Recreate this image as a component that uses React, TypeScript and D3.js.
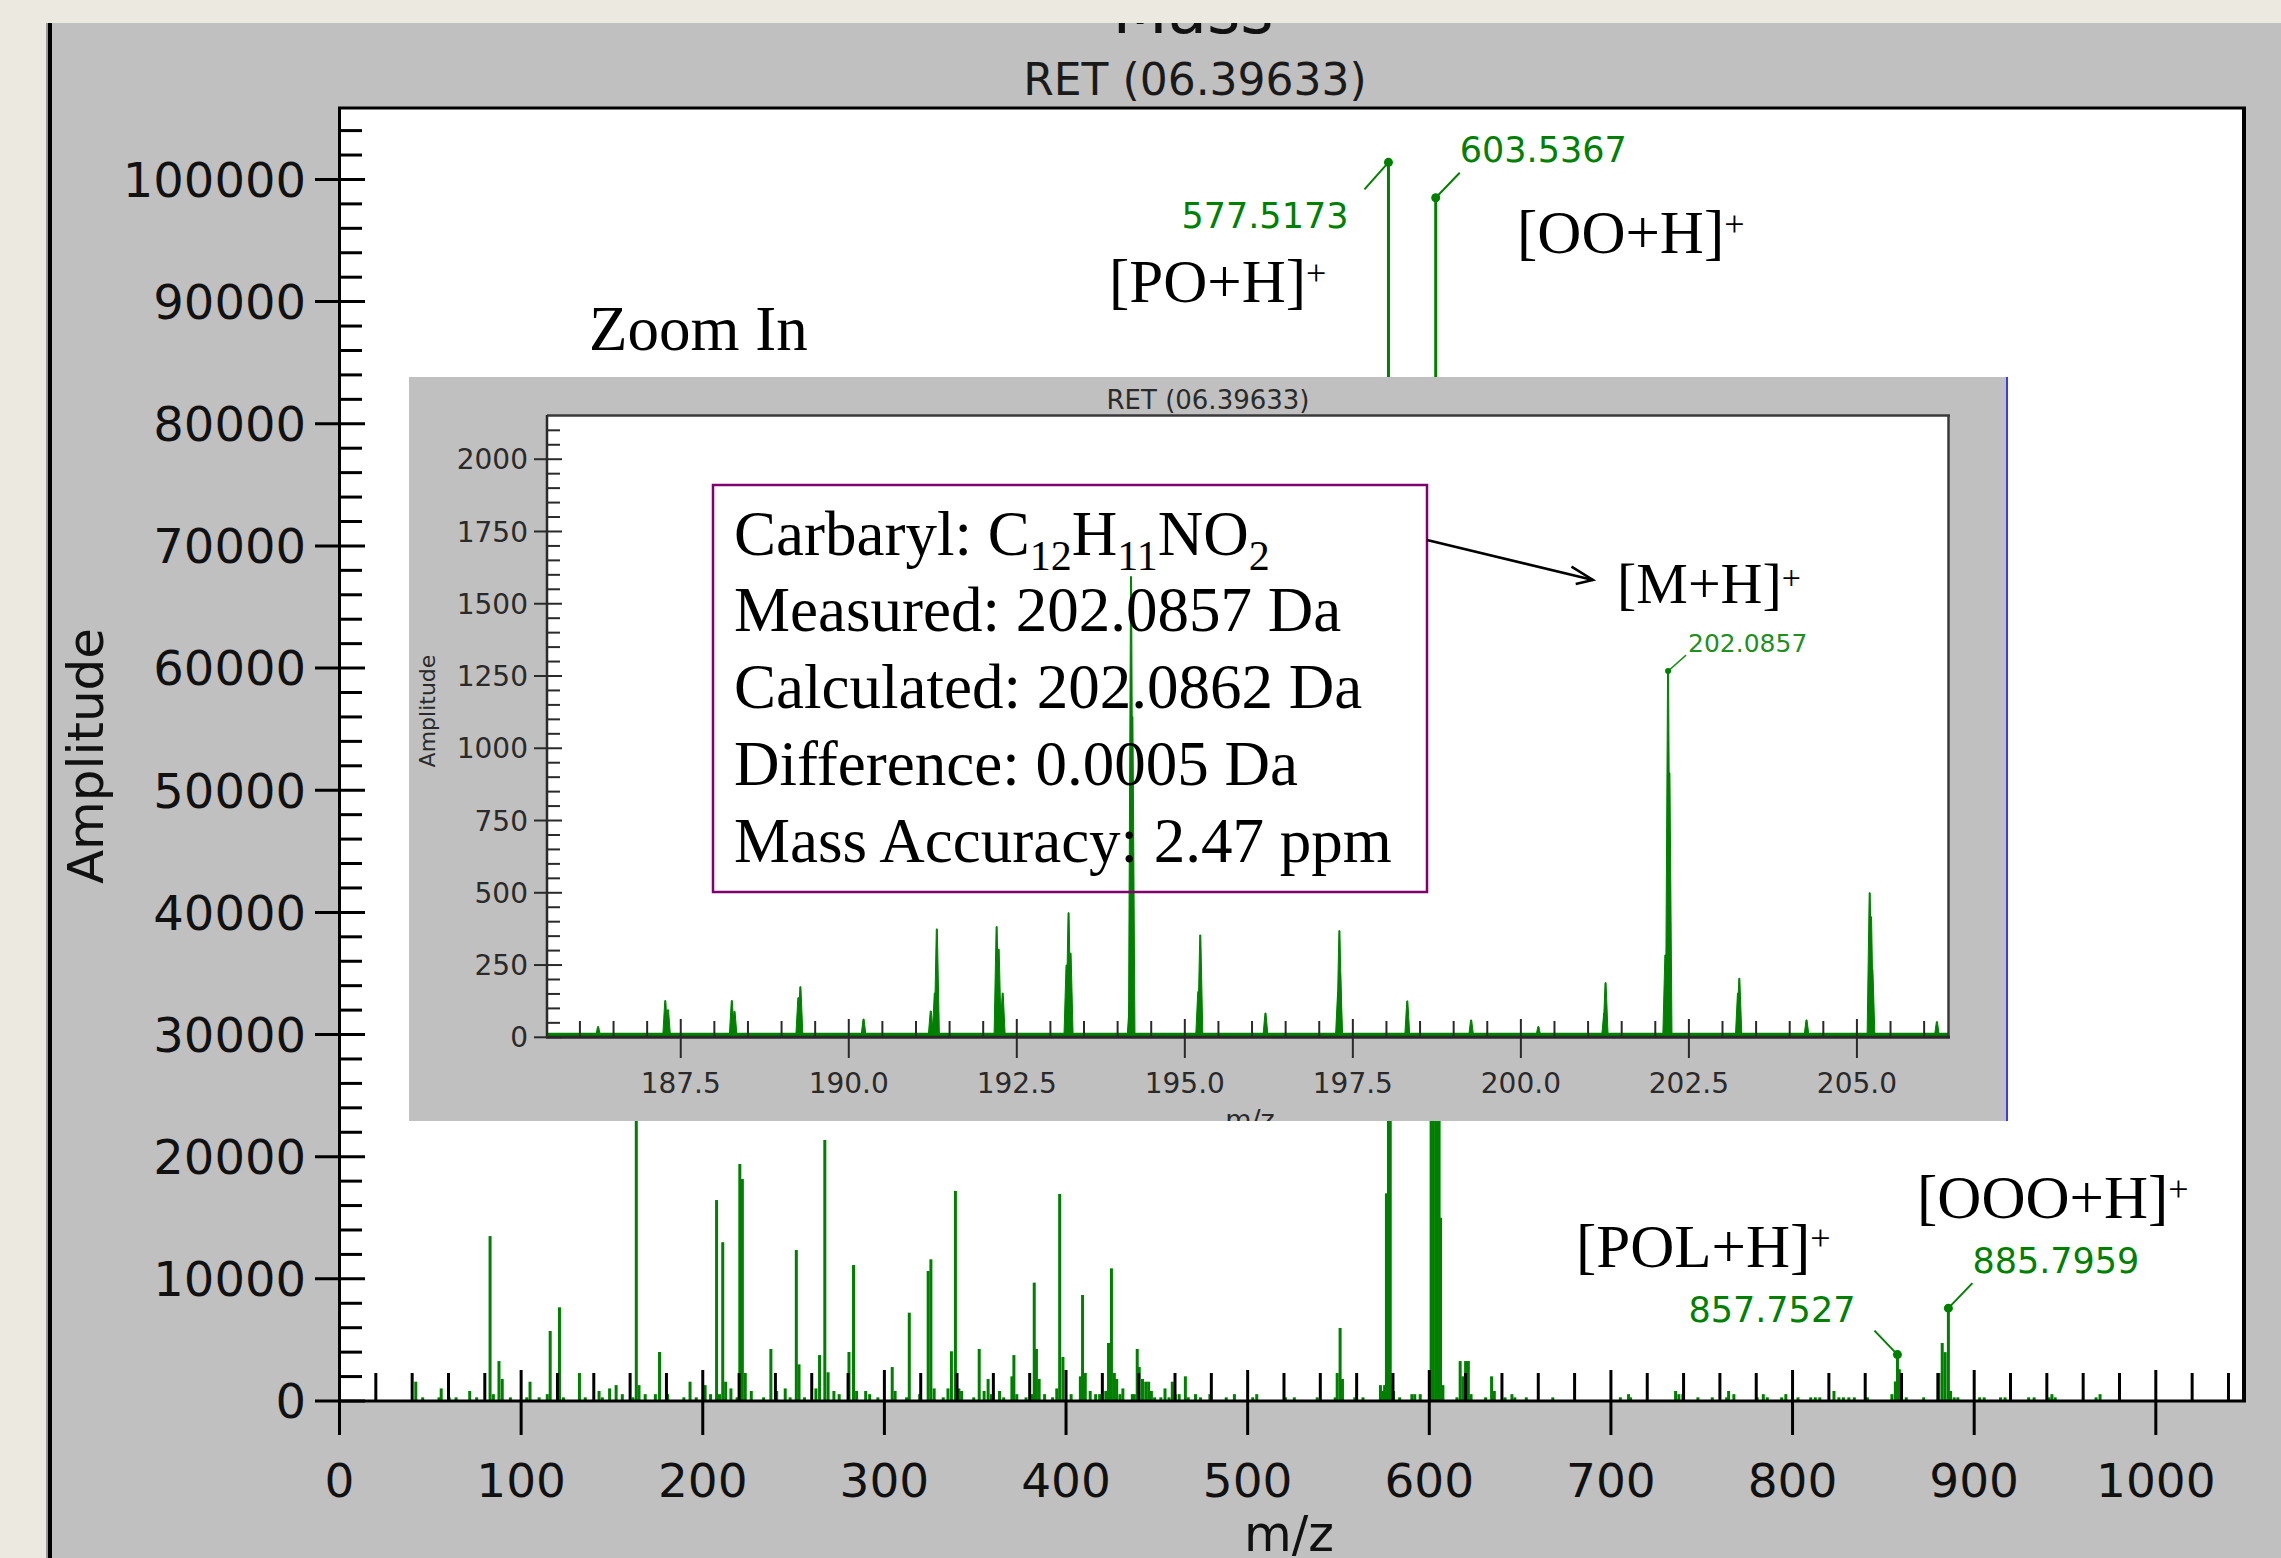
import * as d3 from "d3";

const W = 2281;
const H = 1558;

// ---- main spectrum: [m/z, amplitude] sticks ----
const mainPeaks: [number, number][] = [
  [42, 1580], [45.8, 300], [54.8, 300], [56, 1030], [60.4, 300], [64.2, 300], [71.7, 820], [75.5, 300],
  [82.9, 13500], [84.7, 560], [87.8, 3270], [89.6, 1800], [94.1, 300], [103.1, 300], [104.9, 1580],
  [109.9, 300], [114.4, 560], [116, 5730], [121.1, 7670], [123.3, 300], [132.1, 2290], [135.3, 300],
  [142.9, 820], [144.7, 300], [148.7, 1030], [152.3, 1300], [155.7, 560], [161.6, 300], [163.4, 25000],
  [164.9, 1300], [168.3, 560], [173.9, 560], [176.2, 4010], [180.7, 560], [189.6, 300], [193, 1580],
  [196.4, 300], [201.3, 1300], [204.3, 560], [207.6, 16450], [209.2, 560], [211, 13000], [212.6, 1580],
  [215.5, 1030], [218.9, 300], [220.4, 19400], [221.8, 18170], [223.4, 2290], [226.7, 820], [233.5, 300],
  [237.5, 4260], [240.7, 820], [245.4, 1030], [248.1, 300], [251.5, 12360], [253, 3000], [256, 300],
  [262.3, 1030], [264.3, 3760], [267.2, 21370], [269, 2350], [272.2, 820], [275.1, 560], [280.5, 4010],
  [283, 11130], [284.7, 820], [289.7, 820], [291.9, 560], [296.4, 300], [304.3, 2780], [305.9, 820],
  [312.2, 300], [313.7, 7230], [319.4, 560], [324.1, 10640], [325.6, 11600], [327.4, 1030], [332.4, 300],
  [335, 1030], [336.9, 4070], [339.1, 17200], [341, 1030], [342.5, 820], [349.2, 300], [352.2, 4260],
  [354.9, 820], [357.1, 1800], [358.9, 560], [363.4, 820], [365.7, 300], [370.2, 2020], [371.3, 3760],
  [372.9, 560], [378, 300], [381, 560], [382.5, 9690], [383.7, 4260], [385.2, 1800], [388.2, 560],
  [392.6, 300], [394.9, 1030], [396.5, 16950], [398.3, 3600], [402.8, 560], [407.9, 2020], [409.1, 8680],
  [410.6, 2290], [413.3, 820], [416.3, 560], [418.5, 560], [421.9, 820], [423.4, 4750], [425, 10860],
  [426.6, 2290], [427.9, 1800], [429.7, 560], [431.3, 1030], [436.5, 560], [437.6, 560], [439.2, 4260],
  [440.3, 2780], [442.1, 1800], [443.9, 1580], [445.5, 1580], [447, 820], [448.8, 300], [452.2, 300],
  [454.5, 1030], [456.7, 300], [458.5, 1580], [460.1, 560], [462.3, 560], [465.7, 2020], [467.3, 300],
  [471.3, 560], [474, 300], [479.2, 560], [488.2, 300], [492.7, 560], [502.8, 300], [505, 560],
  [520.8, 300], [525.7, 300], [538.3, 300], [548.2, 300], [549.3, 2290], [550.9, 5980], [552.2, 1800],
  [559, 300], [563.5, 300], [573.1, 1300], [574.3, 820], [575.4, 1300], [576.4, 17000], [577.5173, 101400],
  [578.5, 38000], [579.5, 1300], [580.3, 820], [583.7, 300], [590.4, 560], [592, 560], [595, 560],
  [601, 30000], [602.2, 35000], [603.5367, 98500], [604.6, 40000], [605.4, 26000], [606.2, 15000],
  [607.5, 1300], [615.2, 300], [617, 3270], [618.5, 2020], [620, 3270], [621.5, 3270], [623, 560],
  [631, 300], [634.3, 2020], [635.8, 820], [641.7, 300], [645.5, 560], [647.1, 300], [653.4, 300],
  [668, 300], [705.2, 300], [709.7, 560], [710.8, 300], [735.6, 820], [737.4, 560], [739.6, 560],
  [747.9, 300], [755.8, 300], [763.7, 300], [764.8, 820], [767.7, 560], [780.5, 300], [783.9, 560],
  [786.1, 300], [794, 300], [796.3, 560], [803, 300], [810, 300], [812.5, 300], [815, 300], [822.8, 820],
  [825.5, 300], [828, 300], [831, 300], [834, 300], [841.2, 300], [854.7, 560], [856.6, 1600],
  [857.7527, 3800], [858.8, 2600], [859.8, 1600], [862.6, 300], [872.2, 300], [880.6, 2290], [882.4, 4750],
  [884, 4000], [885.7959, 7600], [887, 820], [889, 300], [891, 300], [903, 300], [905.5, 300],
  [914.5, 300], [917, 300], [930, 300], [933, 300], [941.2, 300], [942.8, 560], [944.6, 300],
  [967.1, 300], [969.3, 560],
];

// labelled peaks in the main spectrum
const mainLabelMz = [577.5173, 603.5367, 857.7527, 885.7959];
const mainLabelAmp = [101400, 98500, 3800, 7600];
const mainLabelText = ["577.5173", "603.5367", "857.7527", "885.7959"];

// ion annotations (slide text)
const ionLabels = ["PO+H", "OO+H", "POL+H", "OOO+H"];

// ---- zoomed spectrum (inset): [m/z, amplitude] ----
const insetPeaks: [number, number][] = [
  [186.27, 37], [187.27, 127], [187.31, 95], [188.26, 127], [188.3, 90], [189.25, 137], [189.28, 175],
  [190.22, 63], [191.22, 91], [191.28, 153], [191.31, 375], [192.2, 383], [192.23, 305], [192.26, 95],
  [192.29, 153], [193.24, 250], [193.27, 431], [193.3, 291], [194.18, 112], [194.2, 1594], [194.22, 1109],
  [195.2, 158], [195.23, 354], [196.2, 84], [197.28, 153], [197.3, 369], [197.31, 222], [198.31, 126],
  [199.26, 60], [200.26, 37], [201.24, 84], [201.26, 189], [202.15, 285], [202.19, 1267], [202.21, 915],
  [203.23, 153], [203.25, 204], [204.25, 60], [205.19, 500], [205.21, 417], [205.23, 233], [206.19, 54],
];
const insetLabelMz = 202.19;
const insetLabelAmp = 1267;
const insetLabelText = "202.0857";

const noteLines = [
  "Measured: 202.0857 Da",
  "Calculated: 202.0862 Da",
  "Difference: 0.0005 Da",
  "Mass Accuracy: 2.47 ppm",
];

const GREEN = "#008000";
const SANS = "'DejaVu Sans', Verdana, sans-serif";
const SERIF = "'Liberation Serif', 'Times New Roman', serif";

export default function App() {
  // main scales
  const x = d3.scaleLinear().domain([0, 1048]).range([339.5, 2243]);
  const y = d3.scaleLinear().domain([0, 105850]).range([1401, 108]);
  const y0 = y(0);

  const xMajor = d3.range(0, 1001, 100);
  const xMinor = d3.range(20, 1041, 20).filter((v) => v % 100 !== 0);
  const yMajor = d3.range(0, 100001, 10000);
  const yMinor = d3.range(2000, 104001, 2000).filter((v) => v % 10000 !== 0);

  // inset scales
  const xi = d3.scaleLinear().domain([185.51, 206.37]).range([547, 1949]);
  const yi = d3.scaleLinear().domain([0, 2153]).range([1037.3, 415]);
  const yi0 = yi(0);
  const xiMajor = d3.range(75, 83).map((k) => k * 2.5);
  const xiMinor = d3.range(372, 413).map((k) => k / 2).filter((v) => Math.abs(v / 2.5 - Math.round(v / 2.5)) > 1e-6);
  const yiMajor = d3.range(0, 2001, 250);
  const yiMinor = d3.range(50, 2101, 50).filter((v) => v % 250 !== 0);
  const fmt1 = d3.format(".1f");

  // placement of the peak labels: [labelDx, labelDy, anchor, leaderDx, leaderDy]
  const labelPlace: [number, number, string, number, number][] = [
    [-40, 66, "end", -24, 27],
    [24, -36, "start", 24, -25],
    [-42, -33, "end", -23, -24],
    [24, -35, "start", 24, -25],
  ];
  const ionPos: [number, number][] = [
    [1109, 302],
    [1517, 253],
    [1576, 1267],
    [1917, 1218],
  ];

  const ipx = xi(insetLabelMz);
  const ipy = yi(insetLabelAmp);

  return (
    <svg
      width={W}
      height={H}
      style={{ position: "absolute", left: 0, top: 0, display: "block" }}
      fontFamily={SANS}
    >
      <defs>
        <clipPath id="plotClip">
          <rect x={341} y={109} width={1902} height={1291} />
        </clipPath>
        <clipPath id="insetClip">
          <rect x={409} y={377} width={1599} height={744} />
        </clipPath>
        <clipPath id="insetPlotClip">
          <rect x={548} y={416} width={1400} height={621} />
        </clipPath>
      </defs>

      {/* window background */}
      <rect width={W} height={H} fill="#ECE9E1" />
      <rect x={52} y={23} width={W - 52} height={H - 23} fill="#C0C0C0" />
      <text x={1193} y={33} fontSize={64} textAnchor="middle" fill="#111">Mass</text>
      <rect x={0} y={0} width={W} height={23} fill="#ECE9E1" />
      <rect x={46} y={23} width={2} height={H - 23} fill="#9a9890" />
      <rect x={48} y={23} width={4} height={H - 23} fill="#000" />

      <text x={1195} y={95} fontSize={44} textAnchor="middle" fill="#1a1a1a">RET (06.39633)</text>

      {/* main plot area */}
      <rect x={339.5} y={108} width={1904} height={1293} fill="#fff" />

      <g clipPath="url(#plotClip)">
        {mainPeaks.map(([mz, a], i) => (
          <rect key={i} x={x(mz) - 1.5} y={y(a)} width={3} height={y0 - y(a)} fill={GREEN} />
        ))}
      </g>

      {/* frame */}
      <line x1={338} x2={2246} y1={108} y2={108} stroke="#000" strokeWidth={3} />
      <line x1={2244} x2={2244} y1={107} y2={1402} stroke="#000" strokeWidth={4} />
      <line x1={339.5} x2={339.5} y1={107} y2={1402} stroke="#000" strokeWidth={3} />
      <line x1={338} x2={2246} y1={1401} y2={1401} stroke="#000" strokeWidth={3} />

      {/* y axis ticks */}
      {yMinor.map((v) => (
        <line key={"ym" + v} x1={339.5} x2={362} y1={y(v)} y2={y(v)} stroke="#000" strokeWidth={3} />
      ))}
      {yMajor.map((v) => (
        <g key={"yM" + v}>
          <line x1={315} x2={365} y1={y(v)} y2={y(v)} stroke="#000" strokeWidth={3} />
          <text x={306} y={y(v)} dy="0.36em" fontSize={48} textAnchor="end" fill="#111">{v}</text>
        </g>
      ))}

      {/* x axis ticks */}
      {xMinor.map((v) => (
        <line key={"xm" + v} x1={x(v)} x2={x(v)} y1={1373} y2={1401} stroke="#000" strokeWidth={3} />
      ))}
      {xMajor.map((v) => (
        <g key={"xM" + v}>
          <line x1={x(v)} x2={x(v)} y1={1370} y2={1435} stroke="#000" strokeWidth={3} />
          <text x={x(v)} y={1497} fontSize={47} textAnchor="middle" fill="#111">{v}</text>
        </g>
      ))}

      <text x={1289} y={1551} fontSize={49} textAnchor="middle" fill="#111">m/z</text>
      <text
        transform="translate(103,756) rotate(-90)"
        fontSize={50}
        textAnchor="middle"
        fill="#111"
      >
        Amplitude
      </text>

      {/* labelled peaks */}
      {mainLabelMz.map((mz, i) => {
        const px = x(mz);
        const py = y(mainLabelAmp[i]);
        const [dx, dy, anchor, lx, ly] = labelPlace[i];
        return (
          <g key={"lab" + i}>
            <line x1={px + lx} y1={py + ly} x2={px} y2={py} stroke={GREEN} strokeWidth={2} />
            <circle cx={px} cy={py} r={4.5} fill={GREEN} />
            <text x={px + dx} y={py + dy} fontSize={35} textAnchor={anchor} fill={GREEN}>
              {mainLabelText[i]}
            </text>
          </g>
        );
      })}

      {/* ion annotations */}
      {ionLabels.map((t, i) => (
        <text key={"ion" + i} x={ionPos[i][0]} y={ionPos[i][1]} fontFamily={SERIF} fontSize={61} fill="#000">
          [{t}]
          <tspan fontSize={36} dy={-17}>+</tspan>
        </text>
      ))}
      <text x={589} y={350} fontFamily={SERIF} fontSize={63} fill="#000">Zoom In</text>

      {/* ---- inset ---- */}
      <g clipPath="url(#insetClip)">
        <rect x={409} y={377} width={1599} height={744} fill="#C0C0C0" />
        <text x={1208} y={409} fontSize={26} textAnchor="middle" fill="#2a2a2a">RET (06.39633)</text>
        <rect x={547} y={415} width={1402} height={622} fill="#fff" />

        <g clipPath="url(#insetPlotClip)">
          <line x1={548} x2={1948} y1={yi(9)} y2={yi(9)} stroke={GREEN} strokeWidth={4} />
          {insetPeaks.map(([mz, a], i) => {
            const px = xi(mz);
            const py = yi(a);
            return (
              <path
                key={i}
                d={`M${px - 2.6},${yi0} L${px - 0.5},${py} L${px + 0.5},${py} L${px + 2.6},${yi0} Z`}
                fill={GREEN}
                stroke={GREEN}
                strokeWidth={1}
              />
            );
          })}
        </g>

        {/* inset frame */}
        <line x1={547} x2={1950} y1={415.5} y2={415.5} stroke="#3a3a3a" strokeWidth={2.5} />
        <line x1={1948.5} x2={1948.5} y1={415} y2={1038} stroke="#3a3a3a" strokeWidth={2.5} />
        <line x1={547} x2={547} y1={415} y2={1038} stroke="#2a2a2a" strokeWidth={2.5} />
        <line x1={546} x2={1950} y1={1037.3} y2={1037.3} stroke="#2a2a2a" strokeWidth={3} />

        {yiMinor.map((v) => (
          <line key={"yim" + v} x1={547} x2={560} y1={yi(v)} y2={yi(v)} stroke="#2a2a2a" strokeWidth={2} />
        ))}
        {yiMajor.map((v) => (
          <g key={"yiM" + v}>
            <line x1={534} x2={562} y1={yi(v)} y2={yi(v)} stroke="#2a2a2a" strokeWidth={2} />
            <text x={528} y={yi(v)} dy="0.36em" fontSize={28} textAnchor="end" fill="#2a2a2a">{v}</text>
          </g>
        ))}
        {xiMinor.map((v) => (
          <line key={"xim" + v} x1={xi(v)} x2={xi(v)} y1={1021} y2={1037} stroke="#2a2a2a" strokeWidth={2} />
        ))}
        {xiMajor.map((v) => (
          <g key={"xiM" + v}>
            <line x1={xi(v)} x2={xi(v)} y1={1019} y2={1058} stroke="#2a2a2a" strokeWidth={2} />
            <text x={xi(v)} y={1093} fontSize={28} textAnchor="middle" fill="#2a2a2a">{fmt1(v)}</text>
          </g>
        ))}
        <text x={1250} y={1129} fontSize={27} textAnchor="middle" fill="#2a2a2a">m/z</text>
        <text transform="translate(435,711) rotate(-90)" fontSize={22} textAnchor="middle" fill="#2a2a2a">
          Amplitude
        </text>

        <line x1={ipx + 18} y1={ipy - 16} x2={ipx} y2={ipy} stroke="#1f8f1f" strokeWidth={1.5} />
        <circle cx={ipx} cy={ipy} r={3} fill={GREEN} />
        <text x={ipx + 20} y={ipy - 19} fontSize={25} fill="#1f8f1f">{insetLabelText}</text>

        <line x1={2007.5} x2={2007.5} y1={377} y2={1121} stroke="#3838ff" strokeWidth={3} />
      </g>

      {/* annotation box */}
      <rect x={713} y={485} width={714} height={407} fill="none" stroke="#800070" strokeWidth={2.5} />
      <text x={734} y={555} fontFamily={SERIF} fontSize={63} fill="#000">
        Carbaryl: C
        <tspan fontSize={42} dy={15}>12</tspan>
        <tspan dy={-15}>H</tspan>
        <tspan fontSize={42} dy={15}>11</tspan>
        <tspan dy={-15}>NO</tspan>
        <tspan fontSize={42} dy={15}>2</tspan>
      </text>
      {noteLines.map((t, i) => (
        <text key={"note" + i} x={734} y={631 + i * 77} fontFamily={SERIF} fontSize={63} fill="#000">
          {t}
        </text>
      ))}

      {/* arrow to [M+H]+ */}
      <line x1={1427} y1={540} x2={1593} y2={580} stroke="#000" strokeWidth={2.5} />
      <polyline points="1571.5,566.6 1593,580 1575.7,584" fill="none" stroke="#000" strokeWidth={2.5} />
      <text x={1617} y={603} fontFamily={SERIF} fontSize={58} fill="#000">
        [M+H]
        <tspan fontSize={34} dy={-14}>+</tspan>
      </text>
    </svg>
  );
}
